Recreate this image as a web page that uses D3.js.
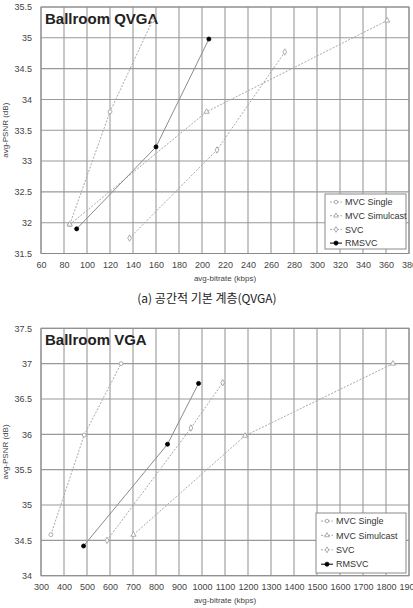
<!DOCTYPE html>
<html>
<head>
<meta charset="utf-8">
<script src="https://cdn.jsdelivr.net/npm/d3@7"></script>
<style>
  body { margin: 0; background: #fff; }
  svg text { font-family: "Liberation Sans", Arial, sans-serif; }
</style>
</head>
<body>
<svg id="chart" width="413" height="608"></svg>
<script>
// series names + legend order
const seriesNames = ["MVC Single", "MVC Simulcast", "SVC", "RMSVC"];

// QVGA (top) - [kbps, dB]
const qvgaMvcSingle = [[85, 31.97], [120, 33.8], [157, 35.28]];
const qvgaMvcSimulcast = [[85, 31.97], [204, 33.8], [361, 35.28]];
const qvgaSvc = [[137, 31.75], [213, 33.18], [272, 34.77]];
const qvgaRmsvc = [[91, 31.9], [160, 33.23], [206, 34.98]];
const qvgaXTicks = d3.range(60, 381, 20);
const qvgaYTicks = [31.5, 32, 32.5, 33, 33.5, 34, 34.5, 35, 35.5];

// VGA (bottom)
const vgaMvcSingle = [[343, 34.58], [488, 35.99], [648, 37.0]];
const vgaMvcSimulcast = [[702, 34.58], [1187, 35.98], [1830, 37.0]];
const vgaSvc = [[587, 34.5], [952, 36.09], [1090, 36.73]];
const vgaRmsvc = [[485, 34.42], [850, 35.86], [985, 36.72]];
const vgaXTicks = d3.range(300, 1901, 100);
const vgaYTicks = [34, 34.5, 35, 35.5, 36, 36.5, 37, 37.5];

const svg = d3.select("#chart");

// marker shapes per series
const symbols = [d3.symbolCircle, d3.symbolTriangle, d3.symbolDiamond, d3.symbolCircle];

function drawPanel(opts) {
	const g = svg.append("g");

	const x = d3.scaleLinear().domain(opts.xDomain).range([41, 409]);
	const y = d3.scaleLinear().domain(opts.yDomain).range([opts.bottom, opts.top]);

	// grid
	g.append("g")
		.selectAll("line")
		.data(opts.xTicks)
		.join("line")
		.attr("x1", (d) => x(d))
		.attr("x2", (d) => x(d))
		.attr("y1", opts.top)
		.attr("y2", opts.bottom)
		.attr("stroke", "#999")
		.attr("stroke-width", 1.1);

	g.append("g")
		.selectAll("line")
		.data(opts.yTicks)
		.join("line")
		.attr("x1", 41)
		.attr("x2", 409)
		.attr("y1", (d) => y(d))
		.attr("y2", (d) => y(d))
		.attr("stroke", "#999")
		.attr("stroke-width", 1.1);

	g.append("rect")
		.attr("x", 41)
		.attr("y", opts.top)
		.attr("width", 368)
		.attr("height", opts.bottom - opts.top)
		.attr("fill", "none")
		.attr("stroke", "#8a8a8a");

	// axes (labels only)
	const xAxis = g.append("g")
		.attr("transform", `translate(0, ${opts.bottom})`)
		.call(d3.axisBottom(x).tickValues(opts.xTicks).tickSize(0).tickPadding(8).tickFormat(d3.format("d")));
	const yAxis = g.append("g")
		.attr("transform", "translate(41, 0)")
		.call(d3.axisLeft(y).tickValues(opts.yTicks).tickSize(0).tickPadding(9).tickFormat(d3.format("")));
	[xAxis, yAxis].forEach((a) => {
		a.select(".domain").remove();
		a.selectAll("text")
			.attr("fill", "#444")
			.style("font-size", "9px");
	});

	g.append("text")
		.attr("x", 225)
		.attr("y", opts.bottom + 27)
		.attr("text-anchor", "middle")
		.attr("fill", "#444")
		.style("font-size", "8px")
		.text("avg-bitrate (kbps)");

	g.append("text")
		.attr("transform", `translate(8, ${(opts.top + opts.bottom) / 2}) rotate(-90)`)
		.attr("text-anchor", "middle")
		.attr("fill", "#444")
		.style("font-size", "8px")
		.text("avg-PSNR (dB)");

	// title
	g.append("text")
		.attr("x", 45)
		.attr("y", opts.top + 17)
		.attr("fill", "#222")
		.style("font-size", "15px")
		.style("font-weight", "bold")
		.text(opts.title);

	// lines
	const line = d3.line().x((d) => x(d[0])).y((d) => y(d[1]));
	opts.series.forEach((s, i) => {
		g.append("path")
			.datum(s)
			.attr("d", line)
			.attr("fill", "none")
			.attr("stroke", i === 3 ? "#8c8c8c" : "#a8a8a8")
			.attr("stroke-width", 1)
			.attr("stroke-dasharray", i === 3 ? null : "2,1.5");
	});

	// markers
	opts.series.forEach((s, i) => {
		g.append("g")
			.selectAll("path")
			.data(s)
			.join("path")
			.attr("transform", (d) => `translate(${x(d[0])}, ${y(d[1])})`)
			.attr("d", d3.symbol().type(symbols[i]).size(i === 3 ? 13 : 12))
			.attr("fill", i === 3 ? "#000" : "#fff")
			.attr("stroke", i === 3 ? "#000" : "#999")
			.attr("stroke-width", 0.8);
	});

	// legend
	const lg = g.append("g").attr("transform", `translate(${opts.legend.x}, ${opts.legend.y})`);
	lg.append("rect")
		.attr("width", opts.legend.w)
		.attr("height", opts.legend.h)
		.attr("fill", "#fff")
		.attr("stroke", "#8a8a8a");
	seriesNames.forEach((name, i) => {
		const ly = opts.legend.pad + i * opts.legend.step;
		lg.append("line")
			.attr("x1", 5)
			.attr("x2", 17)
			.attr("y1", ly)
			.attr("y2", ly)
			.attr("stroke", i === 3 ? "#000" : "#a8a8a8")
			.attr("stroke-dasharray", i === 3 ? null : "2,1.5");
		lg.append("path")
			.attr("transform", `translate(11, ${ly})`)
			.attr("d", d3.symbol().type(symbols[i]).size(i === 3 ? 13 : 10))
			.attr("fill", i === 3 ? "#000" : "#fff")
			.attr("stroke", i === 3 ? "#000" : "#999")
			.attr("stroke-width", 0.8);
		lg.append("text")
			.attr("x", 20)
			.attr("y", ly + 3.2)
			.attr("fill", "#333")
			.style("font-size", "9px")
			.text(name);
	});
}

drawPanel({
	title: "Ballroom QVGA",
	xDomain: [60, 380],
	yDomain: [31.5, 35.5],
	top: 7,
	bottom: 253.5,
	xTicks: qvgaXTicks,
	yTicks: qvgaYTicks,
	series: [qvgaMvcSingle, qvgaMvcSimulcast, qvgaSvc, qvgaRmsvc],
	legend: { x: 325, y: 194, w: 81, h: 55, pad: 8, step: 13.7 },
});

drawPanel({
	title: "Ballroom VGA",
	xDomain: [300, 1900],
	yDomain: [34, 37.5],
	top: 328.3,
	bottom: 575.7,
	xTicks: vgaXTicks,
	yTicks: vgaYTicks,
	series: [vgaMvcSingle, vgaMvcSimulcast, vgaSvc, vgaRmsvc],
	legend: { x: 316, y: 513, w: 90, h: 60, pad: 8, step: 14.4 },
});

// caption between panels
svg.append("text")
	.attr("x", 207)
	.attr("y", 302.5)
	.attr("text-anchor", "middle")
	.attr("fill", "#222")
	.style("font-family", "'Noto Sans CJK KR', sans-serif")
	.style("font-size", "12px")
	.text("(a) 공간적 기본 계층(QVGA)");
</script>
</body>
</html>
